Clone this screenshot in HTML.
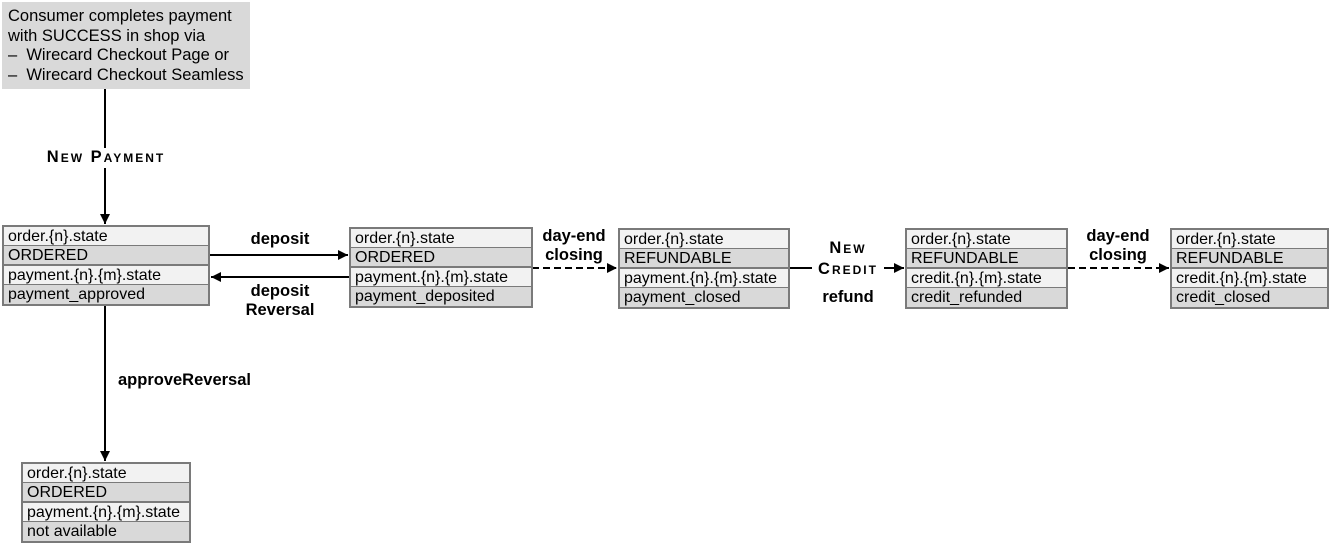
<!DOCTYPE html>
<html><head><style>
body{margin:0;width:1331px;height:545px;background:#fff;position:relative;font-family:"Liberation Sans",Arial,sans-serif;overflow:hidden}
.b{position:absolute;border:2px solid #7a7a7a;background:#7a7a7a}
.r{height:18px;line-height:19px;font-size:16px;padding-left:4px;color:#000;white-space:nowrap;overflow:hidden}
.r.e{height:19px}
.l{background:#f2f2f2}.d{background:#d9d9d9}
.s1{margin-bottom:1px}.s2{margin-bottom:2px}
.t{position:absolute;font-weight:bold;font-size:16.5px;text-align:center;line-height:19px;background:#fff}
svg{position:absolute;left:0;top:0}
</style></head><body>
<div style="position:absolute;left:2px;top:2px;width:248px;height:87px;background:#d9d9d9;font-size:16.5px;line-height:19.5px;padding:5px 0 0 6px;box-sizing:border-box;white-space:nowrap">Consumer completes payment<br>with SUCCESS in shop via<br>–&nbsp; Wirecard Checkout Page or<br>–&nbsp; Wirecard Checkout Seamless</div>
<svg width="1331" height="545">
<defs><marker id="a" markerWidth="10" markerHeight="10" refX="10" refY="5" orient="auto" markerUnits="userSpaceOnUse"><path d="M0,0 L10,5 L0,10z" fill="#000"/></marker></defs>
<g stroke="#000" stroke-width="2" fill="none">
<line x1="105" y1="89" x2="105" y2="224" marker-end="url(#a)"/>
<line x1="210" y1="255" x2="348" y2="255" marker-end="url(#a)"/>
<line x1="349" y1="277" x2="211" y2="277" marker-end="url(#a)"/>
<line x1="532" y1="268" x2="617" y2="268" stroke-dasharray="7,4" marker-end="url(#a)"/>
<line x1="790" y1="268" x2="904" y2="268" marker-end="url(#a)"/>
<line x1="1068" y1="268" x2="1169" y2="268" stroke-dasharray="7,4" marker-end="url(#a)"/>
<line x1="105" y1="306" x2="105" y2="461" marker-end="url(#a)"/>
</g></svg>
<div class="t" style="left:44px;top:148px;width:124px;letter-spacing:2px">N<span style="font-size:12px">EW</span> P<span style="font-size:12px">AYMENT</span></div>
<div class="t" style="left:238px;top:230px;width:84px;background:none">deposit</div>
<div class="t" style="left:236px;top:282px;width:88px;background:none">deposit<br>Reversal</div>
<div class="t" style="left:534px;top:227px;width:80px;background:none">day-end<br>closing</div>
<div class="t" style="left:812px;top:238px;width:72px;letter-spacing:2px;line-height:20px">N<span style="font-size:12px">EW</span><br>C<span style="font-size:12px">REDIT</span></div>
<div class="t" style="left:808px;top:288px;width:80px;background:none">refund</div>
<div class="t" style="left:1078px;top:227px;width:80px;background:none">day-end<br>closing</div>
<div class="t" style="left:118px;top:371px;text-align:left;background:none">approveReversal</div>

<div class="b" style="left:2px;top:225px;width:204px"><div class="r l s1">order.{n}.state</div><div class="r d s2">ORDERED</div><div class="r l s1">payment.{n}.{m}.state</div><div class="r d e">payment_approved</div></div>
<div class="b" style="left:349px;top:227px;width:180px"><div class="r l s1">order.{n}.state</div><div class="r d s2">ORDERED</div><div class="r l s1">payment.{n}.{m}.state</div><div class="r d e">payment_deposited</div></div>
<div class="b" style="left:618px;top:228px;width:168px"><div class="r l s1">order.{n}.state</div><div class="r d s2">REFUNDABLE</div><div class="r l s1">payment.{n}.{m}.state</div><div class="r d e">payment_closed</div></div>
<div class="b" style="left:905px;top:228px;width:159px"><div class="r l s1">order.{n}.state</div><div class="r d s2">REFUNDABLE</div><div class="r l s1">credit.{n}.{m}.state</div><div class="r d e">credit_refunded</div></div>
<div class="b" style="left:1170px;top:228px;width:155px"><div class="r l s1">order.{n}.state</div><div class="r d s2">REFUNDABLE</div><div class="r l s1">credit.{n}.{m}.state</div><div class="r d e">credit_closed</div></div>
<div class="b" style="left:21px;top:462px;width:166px"><div class="r l s1">order.{n}.state</div><div class="r d s2">ORDERED</div><div class="r l s1">payment.{n}.{m}.state</div><div class="r d e">not available</div></div>
</body></html>
